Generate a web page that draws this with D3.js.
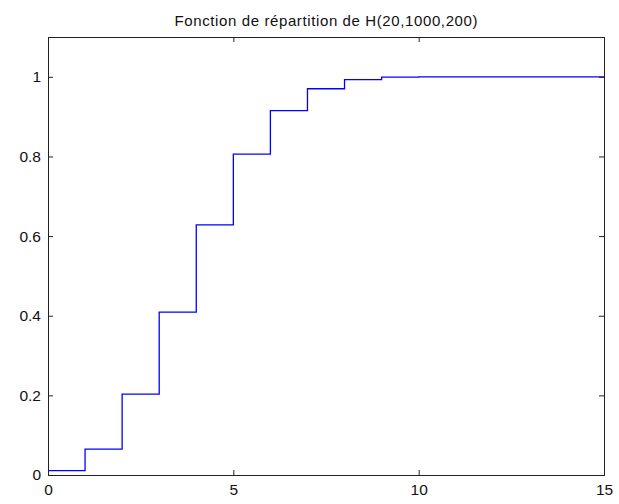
<!DOCTYPE html>
<html>
<head>
<meta charset="utf-8">
<script src="https://cdn.jsdelivr.net/npm/d3@7"></script>
<style>
  body { margin: 0; background: #fff; }
  text { font-family: "Liberation Sans", Arial, sans-serif; fill: #111; }
  .tick-label { font-size: 15.5px; }
  .title { font-size: 15px; }
</style>
</head>
<body>
<svg id="chart" width="619" height="504"></svg>
<script>
// cumulative distribution, one value per integer k
const kValues = [0, 1, 2, 3, 4, 5, 6, 7, 8, 9, 10, 11, 12, 13, 14, 15]
const cdfValues = [0.011, 0.065, 0.203, 0.409, 0.628, 0.806, 0.915, 0.970, 0.993, 0.999, 1, 1, 1, 1, 1, 1]
const xTicks = [0, 5, 10, 15]
const yTicks = [0, 0.2, 0.4, 0.6, 0.8, 1]
const titleText = "Fonction de répartition de H(20,1000,200)"

let mLeft = 48, mRight = 604, mTop = 37, mBottom = 475
let svg = d3.select("#chart")
let xScale = d3.scaleLinear().domain([0, 15]).range([mLeft, mRight])
let yScale = d3.scaleLinear().domain([0, 1.1]).range([mBottom, mTop])

// stairs
let line = d3.line()
    .x((d, i) => xScale(kValues[i]))
    .y((d, i) => yScale(cdfValues[i]))
    .curve(d3.curveStepAfter)
svg.append("path")
    .datum(cdfValues)
    .attr("d", line)
    .attr("fill", "none")
    .attr("stroke", "#0000ff")
    .attr("stroke-width", 1.3)

// axes, ticks inside like matlab
let tickLen = 5
let fmt = d => d3.format("")(+d.toFixed(1))
svg.append("g").attr("transform", `translate(0,${mBottom})`)
    .call(d3.axisBottom(xScale).tickValues(xTicks).tickSizeInner(-tickLen).tickSizeOuter(0).tickPadding(9))
svg.append("g").attr("transform", `translate(0,${mTop})`)
    .call(d3.axisTop(xScale).tickValues(xTicks).tickSizeInner(-tickLen).tickSizeOuter(0).tickFormat(""))
svg.append("g").attr("transform", `translate(${mLeft},0)`)
    .call(d3.axisLeft(yScale).tickValues(yTicks).tickSizeInner(-tickLen).tickSizeOuter(0).tickPadding(7).tickFormat(fmt))
svg.append("g").attr("transform", `translate(${mRight},0)`)
    .call(d3.axisRight(yScale).tickValues(yTicks).tickSizeInner(-tickLen).tickSizeOuter(0).tickFormat(""))

svg.selectAll(".domain").remove()
svg.selectAll(".tick line").attr("stroke", "#222")
svg.selectAll(".tick text").attr("class", "tick-label").attr("font-family", null).attr("font-size", null)

// box
svg.append("rect")
    .attr("x", mLeft + 0.5).attr("y", mTop + 0.5)
    .attr("width", mRight - mLeft).attr("height", mBottom - mTop)
    .attr("fill", "none").attr("stroke", "#222")

// title
svg.append("text")
    .attr("class", "title")
    .attr("x", (mLeft + mRight) / 2)
    .attr("y", 26)
    .attr("text-anchor", "middle")
    .attr("textLength", 303)
    .attr("lengthAdjust", "spacing")
    .text(titleText)
</script>
</body>
</html>
